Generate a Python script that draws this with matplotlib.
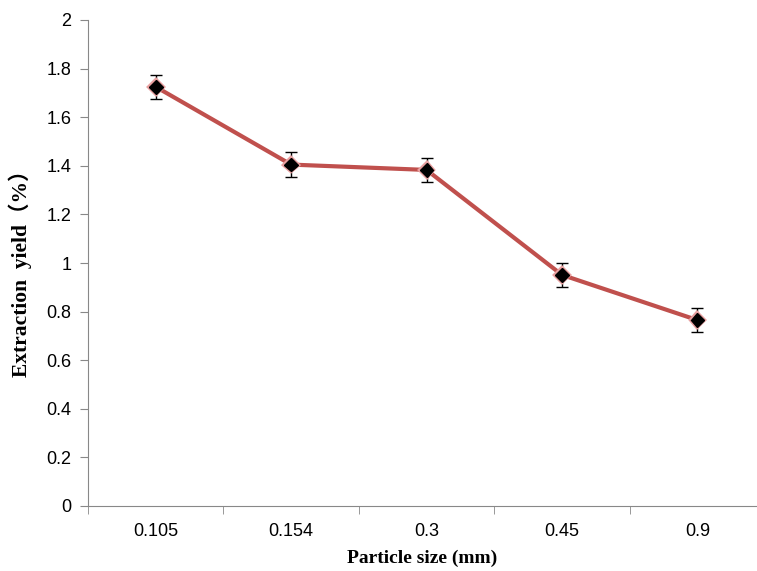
import matplotlib.pyplot as plt
import matplotlib.patheffects as pe
import numpy as np

sizes = ['0.105', '0.154', '0.3', '0.45', '0.9']
yield_pct = [1.725, 1.405, 1.383, 0.951, 0.765]
yerr = [0.05, 0.05, 0.05, 0.05, 0.05]

fig = plt.figure(figsize=(7.57, 5.71), dpi=100)
ax = fig.add_axes([88 / 757, 65 / 571, (757 - 88) / 757, 486 / 571])

x = np.arange(len(sizes))
ax.plot(x, yield_pct, color='#c0504d', lw=3, zorder=2)
ax.errorbar(x, yield_pct, yerr=yerr, fmt='none', ecolor='black', elinewidth=1,
            capsize=4, capthick=1, zorder=3)
ax.plot(x, yield_pct, 'D', color='black', ms=7, ls='none', zorder=4,
        path_effects=[pe.withStroke(linewidth=3, foreground='#e8a0a0')])

ax.set_yticks(np.arange(0, 2.01, 0.2))
ax.set_yticklabels(['0', '0.2', '0.4', '0.6', '0.8', '1', '1.2', '1.4', '1.6', '1.8', '2'])
ax.set_xticks(x)
ax.set_xticklabels(sizes)
ax.set_xticks(np.arange(-0.5, 5, 1), minor=True)
# limits after ticks, set_xticks widens the view
ax.set_ylim(0, 2)
ax.set_xlim(-0.5, 4.44)
ax.tick_params(axis='x', which='major', length=0, pad=12)
ax.tick_params(axis='x', which='minor', length=6, color='#888888', direction='out')
ax.tick_params(axis='y', length=6, color='#888888', direction='out', pad=6)
for lab in ax.get_xticklabels() + ax.get_yticklabels():
    lab.set_fontfamily('Liberation Sans')
    lab.set_fontsize(13)

for s in ['top', 'right']:
    ax.spines[s].set_visible(False)
for s in ['left', 'bottom']:
    ax.spines[s].set_color('#888888')

ax.set_xlabel('Particle size (mm)', fontfamily='Liberation Serif', fontweight='bold',
              fontsize=14, labelpad=7)
ax.set_ylabel('Extraction  yield（%）', family=['Liberation Serif', 'Noto Sans CJK SC'],
              fontweight='bold', fontsize=15.5, labelpad=10, y=0.49)

fig.savefig('out.png', dpi=100)
